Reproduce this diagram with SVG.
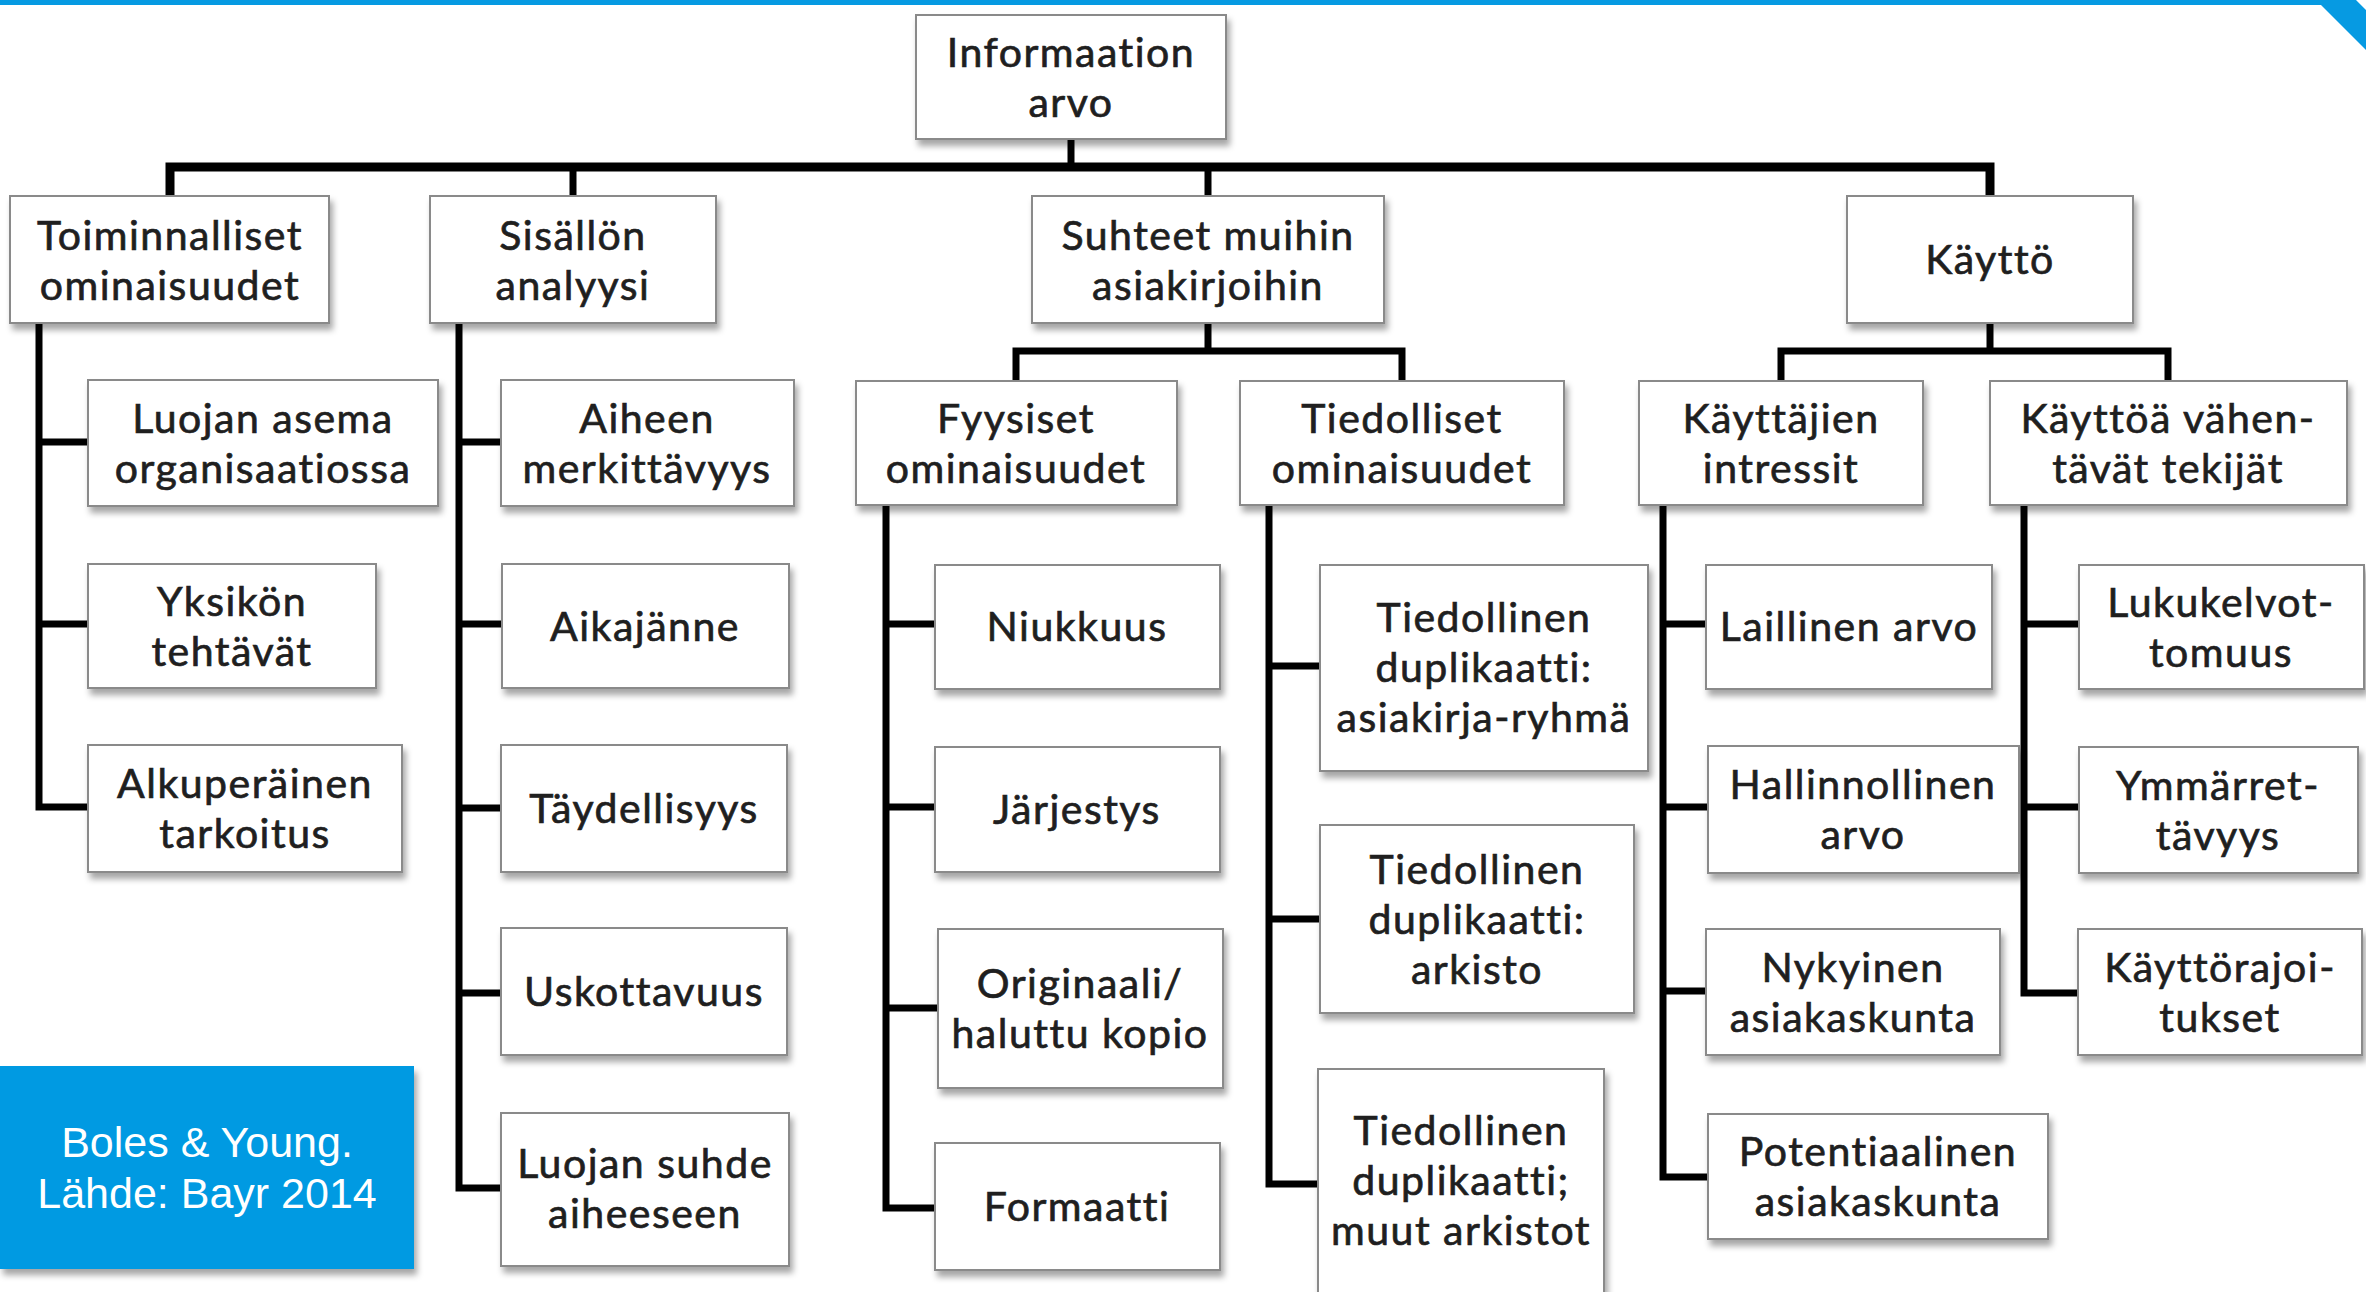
<svg xmlns="http://www.w3.org/2000/svg" width="2366" height="1292" viewBox="0 0 2366 1292">
<style>
.box{fill:#fff;stroke:#8a8a8a;stroke-width:2;filter:url(#sh)}
.t{font-family:Lato,"Open Sans",sans-serif;font-size:41px;letter-spacing:1.5px;fill:#1f1f1f;stroke:#1f1f1f;stroke-width:0.7;text-anchor:middle}
.c{fill:none;stroke:#000;stroke-width:7;stroke-linejoin:miter}
.bus{fill:none;stroke:#000;stroke-width:9}
.note{font-family:"Liberation Sans",Arial,sans-serif;font-size:43px;fill:#fff;text-anchor:middle}
</style>
<defs>
<filter id="sh" x="-10%" y="-10%" width="130%" height="140%">
<feDropShadow dx="3" dy="6" stdDeviation="3" flood-color="#000" flood-opacity="0.35"/>
</filter>
</defs>
<rect width="2366" height="1292" fill="#fff"/>
<polygon points="0,0 2356,0 2366,10 2366,50 2321,5 0,5" fill="#069ae2"/>

<g id="connectors">
<path class="c" d="M1071,139 V167"/>
<path class="bus" d="M170,196 V167 H1990 V196"/>
<path class="c" d="M573,167 V196 M1208,167 V196"/>
<path class="c" d="M39,323 V807 H88 M39,442 H88 M39,624 H88"/>
<path class="c" d="M459,323 V1188 H501 M459,442 H501 M459,624 H501 M459,808 H501 M459,993 H501"/>
<path class="c" d="M1208,323 V351"/>
<path class="c" d="M1016,381 V351 H1402 V381"/>
<path class="c" d="M886,505 V1208 H935 M886,624 H935 M886,807 H935 M886,1008 H938"/>
<path class="c" d="M1269,505 V1184 H1318 M1269,666 H1320 M1269,919 H1320"/>
<path class="c" d="M1990,323 V351"/>
<path class="c" d="M1781,381 V351 H2168 V381"/>
<path class="c" d="M1663,505 V1177 H1708 M1663,624 H1706 M1663,807 H1708 M1663,991 H1706"/>
<path class="c" d="M2024,505 V993 H2078 M2024,624 H2079 M2024,807 H2079"/>
</g>

<g id="root"><rect class="box" x="916" y="15" width="310" height="124"/><text class="t" x="1071" y="67">Informaation<tspan x="1071" dy="50">arvo</tspan></text></g>

<g id="toiminnalliset"><rect class="box" x="10" y="196" width="319" height="127"/><text class="t" x="170" y="250">Toiminnalliset<tspan x="170" dy="50">ominaisuudet</tspan></text></g>
<g id="sisallon"><rect class="box" x="430" y="196" width="286" height="127"/><text class="t" x="573" y="250">Sisällön<tspan x="573" dy="50">analyysi</tspan></text></g>
<g id="suhteet"><rect class="box" x="1032" y="196" width="352" height="127"/><text class="t" x="1208" y="250">Suhteet muihin<tspan x="1208" dy="50">asiakirjoihin</tspan></text></g>
<g id="kaytto"><rect class="box" x="1847" y="196" width="286" height="127"/><text class="t" x="1990" y="274">Käyttö</text></g>

<g id="luojan-asema"><rect class="box" x="88" y="380" width="350" height="126"/><text class="t" x="263" y="433">Luojan asema<tspan x="263" dy="50">organisaatiossa</tspan></text></g>
<g id="yksikon"><rect class="box" x="88" y="564" width="288" height="124"/><text class="t" x="232" y="616">Yksikön<tspan x="232" dy="50">tehtävät</tspan></text></g>
<g id="alkuperainen"><rect class="box" x="88" y="745" width="314" height="127"/><text class="t" x="245" y="798">Alkuperäinen<tspan x="245" dy="50">tarkoitus</tspan></text></g>

<g id="aiheen"><rect class="box" x="501" y="380" width="293" height="126"/><text class="t" x="647" y="433">Aiheen<tspan x="647" dy="50">merkittävyys</tspan></text></g>
<g id="aikajanne"><rect class="box" x="502" y="564" width="287" height="124"/><text class="t" x="645" y="641">Aikajänne</text></g>
<g id="taydellisyys"><rect class="box" x="501" y="745" width="286" height="127"/><text class="t" x="644" y="823">Täydellisyys</text></g>
<g id="uskottavuus"><rect class="box" x="501" y="928" width="286" height="127"/><text class="t" x="644" y="1006">Uskottavuus</text></g>
<g id="luojan-suhde"><rect class="box" x="501" y="1113" width="288" height="153"/><text class="t" x="645" y="1178">Luojan suhde<tspan x="645" dy="50">aiheeseen</tspan></text></g>

<g id="fyysiset"><rect class="box" x="856" y="381" width="321" height="124"/><text class="t" x="1016" y="433">Fyysiset<tspan x="1016" dy="50">ominaisuudet</tspan></text></g>
<g id="tiedolliset"><rect class="box" x="1240" y="381" width="324" height="124"/><text class="t" x="1402" y="433">Tiedolliset<tspan x="1402" dy="50">ominaisuudet</tspan></text></g>
<g id="niukkuus"><rect class="box" x="935" y="565" width="285" height="124"/><text class="t" x="1077" y="641">Niukkuus</text></g>
<g id="jarjestys"><rect class="box" x="935" y="747" width="285" height="125"/><text class="t" x="1077" y="824">Järjestys</text></g>
<g id="originaali"><rect class="box" x="938" y="929" width="285" height="159"/><text class="t" x="1080" y="998">Originaali/<tspan x="1080" dy="50">haluttu kopio</tspan></text></g>
<g id="formaatti"><rect class="box" x="935" y="1143" width="285" height="127"/><text class="t" x="1077" y="1221">Formaatti</text></g>

<g id="td-ryhma"><rect class="box" x="1320" y="565" width="328" height="206"/><text class="t" x="1484" y="632">Tiedollinen<tspan x="1484" dy="50">duplikaatti:</tspan><tspan x="1484" dy="50">asiakirja-ryhmä</tspan></text></g>
<g id="td-arkisto"><rect class="box" x="1320" y="825" width="314" height="188"/><text class="t" x="1477" y="884">Tiedollinen<tspan x="1477" dy="50">duplikaatti:</tspan><tspan x="1477" dy="50">arkisto</tspan></text></g>
<g id="td-muut"><rect class="box" x="1318" y="1069" width="286" height="230"/><text class="t" x="1461" y="1145">Tiedollinen<tspan x="1461" dy="50">duplikaatti;</tspan><tspan x="1461" dy="50">muut arkistot</tspan></text></g>

<g id="kayttajien"><rect class="box" x="1639" y="381" width="284" height="124"/><text class="t" x="1781" y="433">Käyttäjien<tspan x="1781" dy="50">intressit</tspan></text></g>
<g id="vahentavat"><rect class="box" x="1990" y="381" width="357" height="124"/><text class="t" x="2168" y="433">Käyttöä vähen-<tspan x="2168" dy="50">tävät tekijät</tspan></text></g>
<g id="laillinen"><rect class="box" x="1706" y="565" width="286" height="124"/><text class="t" x="1849" y="641">Laillinen arvo</text></g>
<g id="hallinnollinen"><rect class="box" x="1708" y="746" width="311" height="127"/><text class="t" x="1863" y="799">Hallinnollinen<tspan x="1863" dy="50">arvo</tspan></text></g>
<g id="nykyinen"><rect class="box" x="1706" y="929" width="294" height="126"/><text class="t" x="1853" y="982">Nykyinen<tspan x="1853" dy="50">asiakaskunta</tspan></text></g>
<g id="potentiaalinen"><rect class="box" x="1708" y="1114" width="340" height="125"/><text class="t" x="1878" y="1166">Potentiaalinen<tspan x="1878" dy="50">asiakaskunta</tspan></text></g>
<g id="lukukelvottomuus"><rect class="box" x="2079" y="565" width="285" height="124"/><text class="t" x="2221" y="617">Lukukelvot-<tspan x="2221" dy="50">tomuus</tspan></text></g>
<g id="ymmarrettavyys"><rect class="box" x="2079" y="747" width="279" height="126"/><text class="t" x="2218" y="800">Ymmärret-<tspan x="2218" dy="50">tävyys</tspan></text></g>
<g id="kayttorajoitukset"><rect class="box" x="2078" y="929" width="284" height="126"/><text class="t" x="2220" y="982">Käyttörajoi-<tspan x="2220" dy="50">tukset</tspan></text></g>

<g id="source-note"><rect x="0" y="1066" width="414" height="203" fill="#069ae2" filter="url(#sh)"/><text class="note" x="207" y="1157">Boles &amp; Young.<tspan x="207" dy="51">Lähde: Bayr 2014</tspan></text></g>
</svg>
